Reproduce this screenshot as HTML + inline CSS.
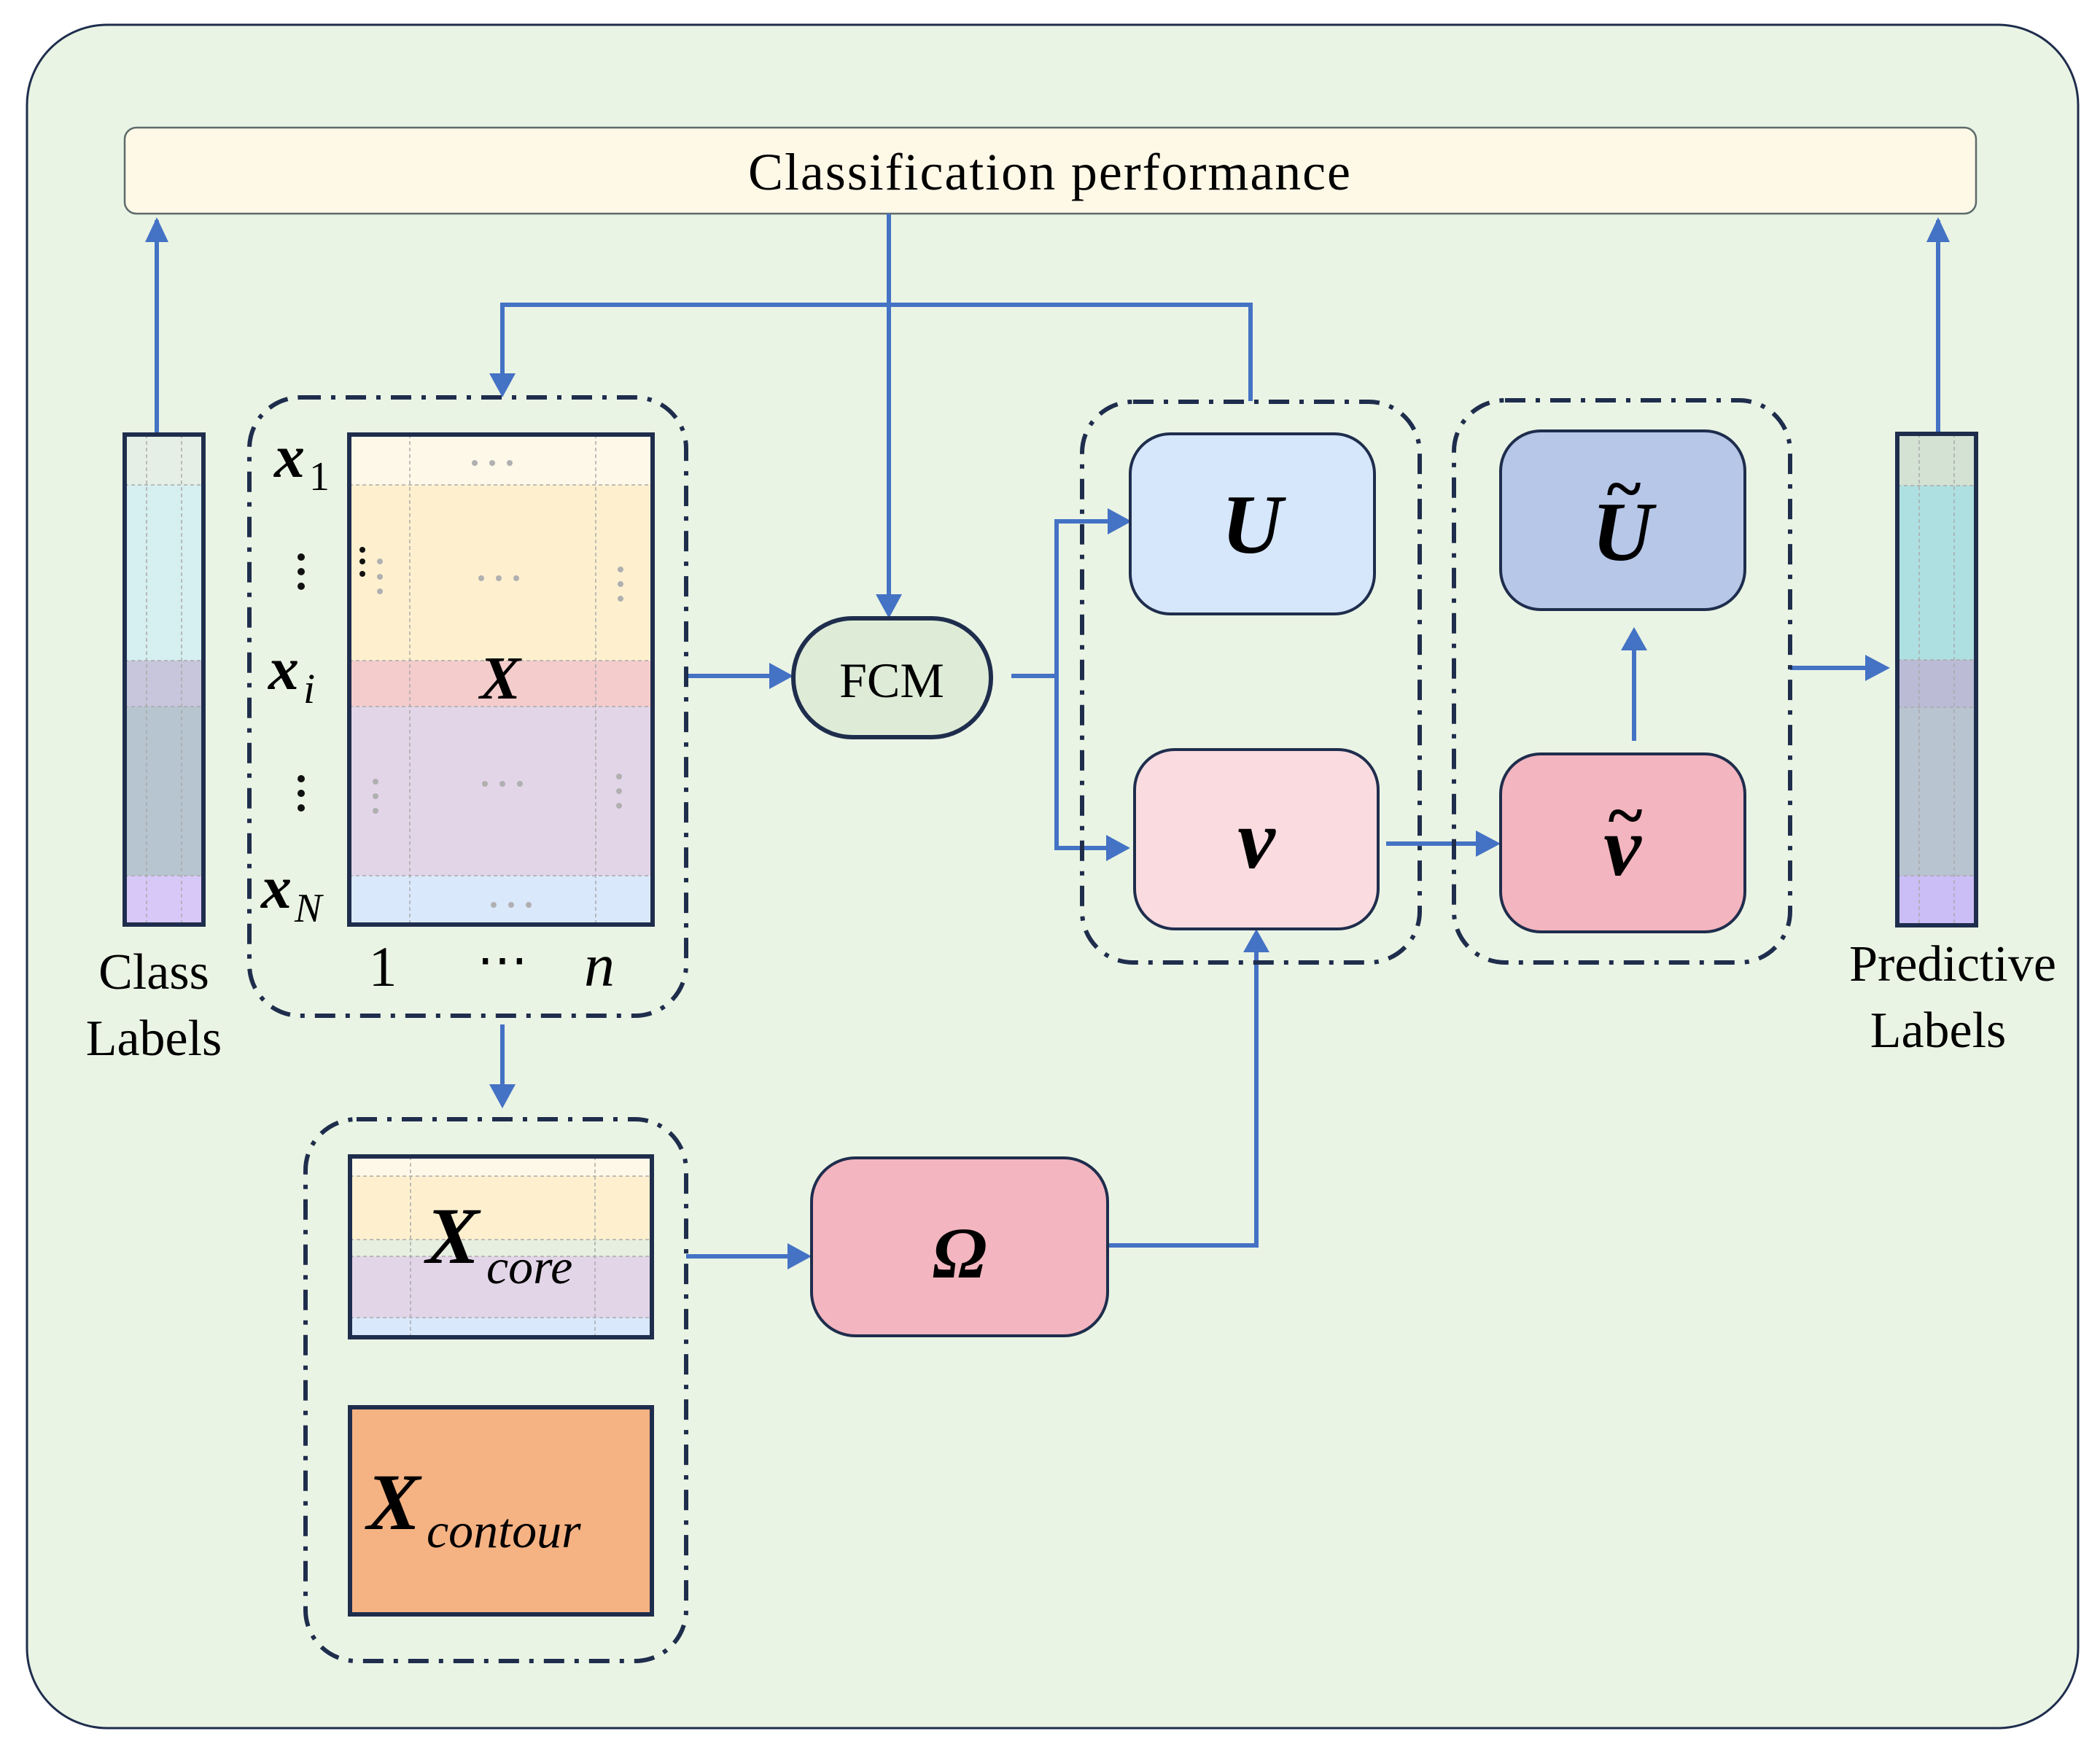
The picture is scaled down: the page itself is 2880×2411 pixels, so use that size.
<!DOCTYPE html>
<html><head><meta charset="utf-8"><style>html,body{margin:0;padding:0;background:#fff}svg{display:block}</style></head>
<body>
<svg width="2880" height="2411" viewBox="0 0 2880 2411" xmlns="http://www.w3.org/2000/svg" font-family="'Liberation Serif', serif">
<rect x="0" y="0" width="2880" height="2411" fill="#fff"/>
<rect x="37" y="34" width="2813" height="2336" rx="110" fill="#eaf4e4" stroke="#1f2d4d" stroke-width="3"/>
<rect x="171" y="175" width="2539" height="118" rx="16" fill="#fef8e7" stroke="#5d6b6b" stroke-width="2.5"/>
<text x="1026" y="260" font-size="72" textLength="826">Classification performance</text>

<g stroke="#4472c4" stroke-width="6" fill="none">
<line x1="215" y1="600" x2="215" y2="302"/>
<path d="M199,332 L215,298 L231,332 z" fill="#4472c4" stroke="none"/>
<line x1="2658" y1="592" x2="2658" y2="302"/>
<path d="M2642,332 L2658,298 L2674,332 z" fill="#4472c4" stroke="none"/>
<line x1="1219" y1="293" x2="1219" y2="818"/>
<path d="M1201,815 L1219,848 L1237,815 z" fill="#4472c4" stroke="none"/>
<polyline points="1715,550 1715,418 689,418 689,515"/>
<path d="M671,512 L689,545 L707,512 z" fill="#4472c4" stroke="none"/>
<line x1="941" y1="927" x2="1058" y2="927"/>
<path d="M1055,909 L1088,927 L1055,945 z" fill="#4472c4" stroke="none"/>
<polyline points="1387,927 1449,927"/>
<polyline points="1522,715 1449,715 1449,1163 1522,1163"/>
<path d="M1519,697 L1552,715 L1519,733 z" fill="#4472c4" stroke="none"/>
<path d="M1517,1145 L1550,1163 L1517,1181 z" fill="#4472c4" stroke="none"/>
<line x1="1901" y1="1157" x2="2028" y2="1157"/>
<path d="M2024,1139 L2058,1157 L2024,1175 z" fill="#4472c4" stroke="none"/>
<line x1="2241" y1="1016" x2="2241" y2="888"/>
<path d="M2223,892 L2241,860 L2259,892 z" fill="#4472c4" stroke="none"/>
<line x1="2455" y1="916" x2="2562" y2="916"/>
<path d="M2558,898 L2592,916 L2558,934 z" fill="#4472c4" stroke="none"/>
<line x1="689" y1="1405" x2="689" y2="1490"/>
<path d="M671,1487 L689,1520 L707,1487 z" fill="#4472c4" stroke="none"/>
<line x1="941" y1="1723" x2="1083" y2="1723"/>
<path d="M1080,1705 L1113,1723 L1080,1741 z" fill="#4472c4" stroke="none"/>
<polyline points="1519,1708 1723,1708 1723,1304"/>
<path d="M1705,1306 L1723,1274 L1741,1306 z" fill="#4472c4" stroke="none"/>
</g>

<g fill="none" stroke="#1f2d4d" stroke-width="6" stroke-dasharray="28 14 6 14">
<rect x="342" y="545" width="599" height="848" rx="70"/>
<rect x="1484" y="551" width="463" height="769" rx="70"/>
<rect x="1994" y="549" width="461" height="771" rx="70"/>
<rect x="419" y="1535" width="522" height="743" rx="70"/>
</g>

<g>
<rect x="171" y="596" width="108" height="69" fill="#e6efe6"/>
<rect x="171" y="665" width="108" height="241" fill="#d6eff0"/>
<rect x="171" y="906" width="108" height="63" fill="#c7c6dc"/>
<rect x="171" y="969" width="108" height="232" fill="#b7c5d0"/>
<rect x="171" y="1201" width="108" height="67" fill="#d8c8f8"/>
<g stroke="#aaa" stroke-width="1.5" stroke-dasharray="5 4"><line x1="201" y1="596" x2="201" y2="1268"/><line x1="249" y1="596" x2="249" y2="1268"/><line x1="171" y1="665" x2="279" y2="665"/><line x1="171" y1="906" x2="279" y2="906"/><line x1="171" y1="969" x2="279" y2="969"/><line x1="171" y1="1201" x2="279" y2="1201"/></g>
<rect x="171" y="596" width="108" height="672" fill="none" stroke="#1f2d4d" stroke-width="6"/>
</g>
<text x="211" y="1356" font-size="70" text-anchor="middle">Class</text>
<text x="211" y="1447" font-size="70" text-anchor="middle">Labels</text>

<g>
<rect x="2602" y="595" width="108" height="71" fill="#d3e2d3"/>
<rect x="2602" y="666" width="108" height="239" fill="#aee0e2"/>
<rect x="2602" y="905" width="108" height="65" fill="#bcbbd6"/>
<rect x="2602" y="970" width="108" height="231" fill="#b8c4d0"/>
<rect x="2602" y="1201" width="108" height="68" fill="#cbbdf6"/>
<g stroke="#aaa" stroke-width="1.5" stroke-dasharray="5 4"><line x1="2632" y1="595" x2="2632" y2="1269"/><line x1="2680" y1="595" x2="2680" y2="1269"/><line x1="2602" y1="666" x2="2710" y2="666"/><line x1="2602" y1="905" x2="2710" y2="905"/><line x1="2602" y1="970" x2="2710" y2="970"/><line x1="2602" y1="1201" x2="2710" y2="1201"/></g>
<rect x="2602" y="595" width="108" height="674" fill="none" stroke="#1f2d4d" stroke-width="6"/>
</g>
<text x="2678" y="1345" font-size="70" text-anchor="middle">Predictive</text>
<text x="2658" y="1436" font-size="70" text-anchor="middle">Labels</text>

<g>
<rect x="479" y="596" width="416" height="69" fill="#fef8e8"/>
<rect x="479" y="665" width="416" height="241" fill="#fef0cf"/>
<rect x="479" y="906" width="416" height="63" fill="#f4cccc"/>
<rect x="479" y="969" width="416" height="232" fill="#e3d5e8"/>
<rect x="479" y="1201" width="416" height="67" fill="#d9e8fb"/>
<g stroke="#aaa" stroke-width="1.5" stroke-dasharray="5 4"><line x1="562" y1="596" x2="562" y2="1268"/><line x1="817" y1="596" x2="817" y2="1268"/><line x1="479" y1="665" x2="895" y2="665"/><line x1="479" y1="906" x2="895" y2="906"/><line x1="479" y1="969" x2="895" y2="969"/><line x1="479" y1="1201" x2="895" y2="1201"/></g>
<g fill="#b0b0b0">
<circle cx="651" cy="635" r="4"/><circle cx="675" cy="635" r="4"/><circle cx="699" cy="635" r="4"/>
<circle cx="660" cy="793" r="4"/><circle cx="684" cy="793" r="4"/><circle cx="708" cy="793" r="4"/>
<circle cx="665" cy="1075" r="4"/><circle cx="689" cy="1075" r="4"/><circle cx="713" cy="1075" r="4"/>
<circle cx="677" cy="1241" r="4"/><circle cx="701" cy="1241" r="4"/><circle cx="725" cy="1241" r="4"/>
<circle cx="521" cy="770" r="4"/><circle cx="521" cy="791" r="4"/><circle cx="521" cy="811" r="4"/>
<circle cx="851" cy="781" r="4"/><circle cx="851" cy="801" r="4"/><circle cx="851" cy="821" r="4"/>
<circle cx="515" cy="1072" r="4"/><circle cx="515" cy="1092" r="4"/><circle cx="515" cy="1112" r="4"/>
<circle cx="849" cy="1065" r="4"/><circle cx="849" cy="1085" r="4"/><circle cx="849" cy="1105" r="4"/>
</g>
<g fill="#111"><circle cx="497" cy="754" r="4"/><circle cx="497" cy="770" r="4"/><circle cx="497" cy="787" r="4"/></g>
<rect x="479" y="596" width="416" height="672" fill="none" stroke="#1f2d4d" stroke-width="6"/>
<text x="686" y="958" font-size="84" font-weight="bold" font-style="italic" text-anchor="middle">X</text>
</g>
<g font-weight="bold" font-style="italic" font-size="84">
<text x="376" y="654">x</text><text x="424" y="672" font-size="56" font-weight="normal" font-style="normal">1</text>
<text x="368" y="945">x</text><text x="416" y="964" font-size="58" font-weight="normal">i</text>
<text x="358" y="1245">x</text><text x="404" y="1264" font-size="56" font-weight="normal">N</text>
</g>
<g fill="#111"><circle cx="413" cy="764" r="5"/><circle cx="413" cy="784" r="5"/><circle cx="413" cy="804" r="5"/>
<circle cx="413" cy="1068" r="5"/><circle cx="413" cy="1088" r="5"/><circle cx="413" cy="1108" r="5"/></g>
<text x="525" y="1352" font-size="78" text-anchor="middle">1</text>
<text x="689" y="1340" font-size="70" text-anchor="middle">⋯</text>
<text x="822" y="1352" font-size="84" font-style="italic" text-anchor="middle">n</text>

<rect x="1088" y="848" width="271" height="163" rx="81" fill="#deecd7" stroke="#1f2d4d" stroke-width="6"/>
<text x="1223" y="956" font-size="68" text-anchor="middle">FCM</text>

<rect x="1550" y="595" width="335" height="247" rx="55" fill="#d6e6fb" stroke="#1f2d4d" stroke-width="4"/>
<text x="1717" y="758" font-size="116" font-weight="bold" font-style="italic" text-anchor="middle">U</text>
<rect x="1556" y="1028" width="334" height="246" rx="55" fill="#f9dbe0" stroke="#1f2d4d" stroke-width="4"/>
<text x="1723" y="1190" font-size="116" font-weight="bold" font-style="italic" text-anchor="middle">v</text>
<rect x="2058" y="591" width="335" height="245" rx="55" fill="#b6c7e8" stroke="#1f2d4d" stroke-width="4"/>
<text x="2225" y="768" font-size="116" font-weight="bold" font-style="italic" text-anchor="middle">U</text>
<text x="2227" y="700" font-size="90" font-weight="bold" text-anchor="middle">~</text>
<rect x="2058" y="1034" width="335" height="244" rx="55" fill="#f3b5bf" stroke="#1f2d4d" stroke-width="4"/>
<text x="2225" y="1200" font-size="116" font-weight="bold" font-style="italic" text-anchor="middle">v</text>
<text x="2229" y="1148" font-size="90" font-weight="bold" text-anchor="middle">~</text>

<rect x="1113" y="1588" width="406" height="244" rx="60" fill="#f3b5bf" stroke="#1f2d4d" stroke-width="4"/>
<text x="1316" y="1752" font-size="100" font-weight="bold" font-style="italic" text-anchor="middle">Ω</text>

<g>
<rect x="480" y="1586" width="414" height="27" fill="#fef8e8"/>
<rect x="480" y="1613" width="414" height="87" fill="#fef0cf"/>
<rect x="480" y="1700" width="414" height="23" fill="#e6efe0"/>
<rect x="480" y="1723" width="414" height="84" fill="#e3d5e8"/>
<rect x="480" y="1807" width="414" height="27" fill="#d9e8fb"/>
<g stroke="#aaa" stroke-width="1.5" stroke-dasharray="5 4"><line x1="563" y1="1586" x2="563" y2="1834"/><line x1="816" y1="1586" x2="816" y2="1834"/><line x1="480" y1="1613" x2="894" y2="1613"/><line x1="480" y1="1700" x2="894" y2="1700"/><line x1="480" y1="1723" x2="894" y2="1723"/><line x1="480" y1="1807" x2="894" y2="1807"/></g>
<rect x="480" y="1586" width="414" height="248" fill="none" stroke="#1f2d4d" stroke-width="6"/>
<text x="584" y="1732" font-size="110" font-weight="bold" font-style="italic">X</text>
<text x="667" y="1760" font-size="68" font-style="italic">core</text>
</g>
<rect x="480" y="1930" width="414" height="284" fill="#f5b283" stroke="#1f2d4d" stroke-width="6"/>
<text x="503" y="2097" font-size="110" font-weight="bold" font-style="italic">X</text>
<text x="585" y="2122" font-size="68" font-style="italic">contour</text>
</svg>
</body></html>
